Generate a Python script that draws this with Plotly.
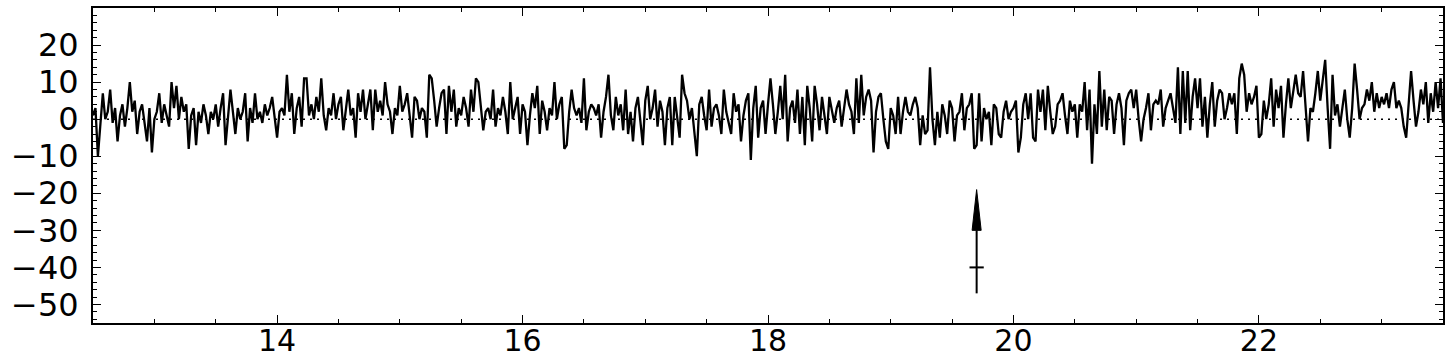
import numpy as np
import plotly.graph_objects as go

# ---- data ----
t_start = 12.5
t_step = 0.02

seg1 = [1, 3, -10, -2, 7, 0, 2, 8, -1, 3, -6, 1, 4, -2, 3, 10, 2, 5, -4, 2, 4, -1, -6, 3, -9, 0, 2, 7, -1, 4,
        1, -2, 10, 3, 9, 0, 6, 2, 4, -8, 1, 3, -7, 2, -1, 4, 1, -4, 2, 0, 4, -2, 3, 7, -7, 1, 8, 2, -4, 3,
        0, 2, 7, -6, 3, -1, 7]
seg2 = [0, 2, -1, 4, 1, 3, 6, 0, -5, 2, 3, 1, 12, 2, 7, -4, 3, 6, -2, 11, 11, 1, 4, 0, 6, 2, 11, 1, -3, 3,
        1, 7, 0, 4, 6, -3, 2, 8, 1, 3, -5, 7, 2, 8, 0, 4, 8, -3, 8, 2, 5, 1, 10, 4, 2, -4, 3, 1, 9, 2,
        4, 7, 1, -5, 6, 5, 0, 3, 2]
seg3 = [-5, 12, 11, 5, -2, 3, 7, 8, -4, 9, 2, 8, -2, 3, 1, 6, 3, -2, 8, 2, 11, 10, 3, -3, 2, 3, 0, 8, -2, 3,
        1, 6, 2, -4, 10, 0, 3, 6, -4, 4, 2, -7, 1, 7, 3, 9, -4, 5, 2, -3, 3, 1, 10, 0, 4, 6, -8, -7, 2, 8,
        3, 1, 3, -1, 11, -3, 2, 4]
seg4 = [3, 1, 4, -5, 2, 6, 12, 1, -3, 6, 1, 4, -3, 8, -4, 2, -6, 3, 6, 0, -7, 5, 9, 0, 3, 8, -2, 5, 2, -7,
        3, 6, -7, 6, 1, -5, 12, 7, 5, 0, 3, -3, -10, 4, 6, 1, -3, 8, -2, 3, 4, 1, -4, 8, 2, -1, -4, 7, 2, 4,
        -6, 1, 5, 7, -11, 3, 9, -5]
seg5 = [3, 5, -4, 4, 11, 4, -4, 2, 9, 0, 12, -6, 3, 5, -1, 8, -4, 6, -7, 9, 3, -6, 9, 4, -3, 6, 1, -4, 6, 2,
        -1, 3, 5, -2, 3, 8, 4, 2, -4, 11, -1, 12, 1, 6, 8, 5, -9, 2, 6, 7, 0, -6, -8, 3, 1, -4, 6, -4, 2, 6,
        2, 1, 4, 6, 3, -7, 1, -4]
seg6 = [-3, 14, 0, -7, 2, -5, 4, 1, -4, 5, 3, -6, 1, 2, 7, -3, 3, 4, 7, -8, -7, 7, -6, 3, 0, 2, -7, 4, 3, -4,
        -5, 2, 5, 0, 2, 3, 5, -9, -5, 4, 7, 0, 7, -5, -6, 8, 2, 8, -3, 9, 2, -4, -2, 4, 5, 7, 1, -4, 5, 2,
        4, -5, 4, 2, 10, -3, 8, -12]
seg7 = [4, -4, 13, -2, 8, -3, 6, 5, -4, 4, 7, 3, -7, 5, 7, 8, 3, 8, 0, -6, 0, 3, 7, -3, 4, 5, 4, 8, -2, 3,
        5, 7, 3, -1, 14, -4, 13, -1, 13, -3, 6, 11, 3, 11, -2, 6, -5, 4, 10, -2, 5, 8, 7, 0, 3, 7, 4, 7, -4, 11,
        15, 12, 2, 7, 4, 6, 9, -5]
seg8 = [-4, 5, 0, 4, 11, -2, 8, 3, 9, -5, 4, 11, 3, 8, 12, 7, 6, 13, 4, -6, 3, 2, 7, 13, 5, 11, 16, 3, -8, 12,
        1, 4, -2, 3, 8, 0, -5, 3, 15, 8, 0, 3, 4, 8, 5, 10, 2, 7, 3, 6, 4, 7, 3, 8, 10, 3, 5, 3, -2, -5,
        4, 13, 5, -2, 2, 8, 4, 10, -1, 7, 2, 10, 3, 11, -1]

flux = seg1 + seg2 + seg3 + seg4 + seg5 + seg6 + seg7 + seg8
time = t_start + t_step * np.arange(len(flux))

# marked event
event_x = 19.70
event_y_base = -47
event_y_head = -30
event_y_tip = -19
event_y_cross = -40

x_range = [12.5, 23.5]
y_range = [-55, 30]
x_ticks = [14, 16, 18, 20, 22]
y_ticks = [20, 10, 0, -10, -20, -30, -40, -50]

# ---- figure ----
fig = go.Figure()

fig.add_trace(go.Scatter(x=x_range, y=[0, 0], mode="lines",
                         line=dict(color="black", width=1.4, dash="2px,5px"),
                         hoverinfo="skip", showlegend=False))
fig.add_trace(go.Scatter(x=time, y=flux, mode="lines",
                         line=dict(color="black", width=2.3),
                         showlegend=False))

head_half = 0.037
cross_half = 0.058
shapes = [
    dict(type="line", xref="x", yref="y", x0=event_x, x1=event_x,
         y0=event_y_base, y1=event_y_head, line=dict(color="black", width=2)),
    dict(type="path", xref="x", yref="y",
         path=f"M {event_x - head_half},{event_y_head} L {event_x + head_half},{event_y_head} "
              f"L {event_x},{event_y_tip} Z",
         fillcolor="black", line=dict(color="black", width=1)),
    dict(type="line", xref="x", yref="y", x0=event_x - cross_half, x1=event_x + cross_half,
         y0=event_y_cross, y1=event_y_cross, line=dict(color="black", width=2)),
]

font = dict(family="DejaVu Sans", size=32, color="black")
xfont = dict(family="DejaVu Sans", size=30, color="black")
fig.update_layout(
    width=1449, height=360, autosize=False,
    margin=dict(l=93, r=6, t=8, b=37, pad=0),
    plot_bgcolor="white", paper_bgcolor="white",
    font=font, shapes=shapes,
    xaxis=dict(range=x_range, tickvals=x_ticks, ticks="inside", ticklen=8, tickwidth=1.2,
               tickcolor="black", showline=True, linecolor="black", linewidth=2, mirror="ticks",
               showgrid=False, zeroline=False, tickfont=xfont, automargin=False,
               ticklabelstandoff=-10,
               minor=dict(dtick=0.5, tick0=0, ticks="inside", ticklen=4, tickcolor="black", tickwidth=1)),
    yaxis=dict(range=y_range, tickvals=y_ticks, ticks="inside", ticklen=8, tickwidth=1.2,
               tickcolor="black", showline=True, linecolor="black", linewidth=2, mirror="ticks",
               showgrid=False, zeroline=False, tickfont=font, ticklabelstandoff=6, automargin=False,
               minor=dict(dtick=2, tick0=0, ticks="inside", ticklen=4, tickcolor="black", tickwidth=1)),
)

fig.write_html("out.html")
